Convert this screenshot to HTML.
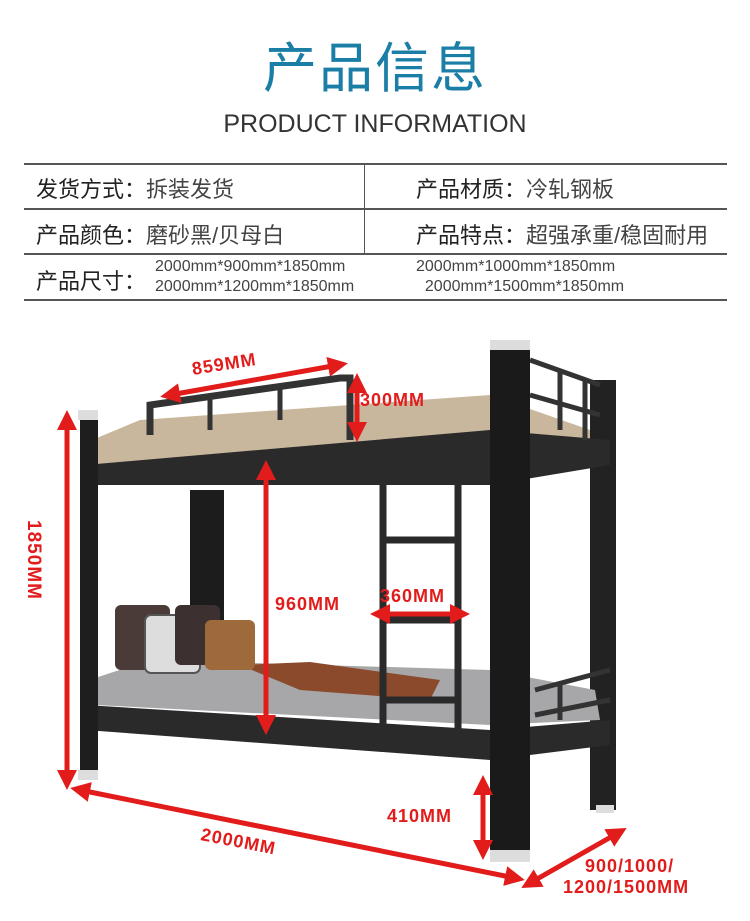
<!DOCTYPE html>
<html><head><meta charset="utf-8"><style>
body{margin:0;width:750px;height:921px;background:#fff;overflow:hidden;font-family:"Liberation Sans","Noto Sans CJK SC",sans-serif;position:relative}
.t{position:absolute;white-space:nowrap}
.h{position:absolute;left:24px;width:703px;height:2px;background:#555}
</style></head><body>
<div class="t" style="left:0;width:750px;text-align:center;top:36px;font-size:54px;color:#1b7ea6;letter-spacing:2px;line-height:66px">产品信息</div>
<div class="t" style="left:0;width:750px;text-align:center;top:108px;font-size:25px;color:#333;line-height:32px">PRODUCT INFORMATION</div>
<div class="h" style="top:163px"></div><div class="h" style="top:208px"></div><div class="h" style="top:253px"></div><div class="h" style="top:299px"></div>
<div style="position:absolute;left:364px;top:164px;width:1px;height:90px;background:#555"></div>
<div class="t" style="left:36px;top:172px;font-size:22px;color:#222">发货方式：<span style="color:#444">拆装发货</span></div>
<div class="t" style="left:416px;top:172px;font-size:22px;color:#222">产品材质：<span style="color:#444">冷轧钢板</span></div>
<div class="t" style="left:36px;top:218px;font-size:22px;color:#222">产品颜色：<span style="color:#444">磨砂黑/贝母白</span></div>
<div class="t" style="left:416px;top:218px;font-size:22px;color:#222">产品特点：<span style="color:#444">超强承重/稳固耐用</span></div>
<div class="t" style="left:36px;top:264px;font-size:22px;color:#222">产品尺寸：</div>
<div class="t" style="left:155px;top:257px;font-size:16px;color:#444;line-height:20px">2000mm*900mm*1850mm<br>2000mm*1200mm*1850mm</div>
<div class="t" style="left:416px;top:257px;font-size:16px;color:#444;line-height:20px">2000mm*1000mm*1850mm<br>&nbsp;&nbsp;2000mm*1500mm*1850mm</div>
<svg style="position:absolute;left:0;top:300px" width="750" height="621" viewBox="0 300 750 621">
<defs><marker id="a" viewBox="0 0 10 10" refX="5" refY="5" markerWidth="4" markerHeight="4" orient="auto-start-reverse"><path d="M0,0L10,5L0,10z" fill="#e21b1b"/></marker></defs>
<rect x="190" y="490" width="34" height="170" fill="#1c1c1c"/>
<rect x="590" y="380" width="26" height="430" fill="#222"/>
<path d="M92,440 L140,420 L490,395 L590,430 L590,445 L490,450 L92,470z" fill="#c9b79d"/>
<path d="M85,465 L490,430 L610,440 L610,465 L490,485 L85,485z" fill="#2a2a2a"/>
<path d="M150,435 L150,405 L340,378 L350,378 L350,440" fill="none" stroke="#333" stroke-width="7"/>
<line x1="210" y1="398" x2="210" y2="430" stroke="#333" stroke-width="5"/><line x1="280" y1="388" x2="280" y2="420" stroke="#333" stroke-width="5"/>
<path d="M530,360 L600,385 M530,395 L600,415 M560,370 L560,430 M585,380 L585,440" stroke="#333" stroke-width="5"/>
<path d="M95,678 L150,660 L490,670 L595,690 L600,720 L490,725 L95,705z" fill="#a7a7a9"/>
<path d="M240,665 L310,662 L440,680 L430,700 L300,690z" fill="#8b4a2c"/>
<rect x="115" y="605" width="55" height="65" rx="6" fill="#4a3b38"/>
<rect x="145" y="615" width="55" height="58" rx="6" fill="#ddd" stroke="#555" stroke-width="2"/>
<rect x="175" y="605" width="45" height="60" rx="6" fill="#3c3030"/>
<rect x="205" y="620" width="50" height="50" rx="6" fill="#9e6a3c"/>
<path d="M85,705 L490,730 L610,720 L610,745 L490,760 L85,730z" fill="#2a2a2a"/>
<path d="M535,690 L610,670 M535,715 L610,700 M560,685 L560,720" stroke="#333" stroke-width="5"/>
<path d="M383,460 L383,735 M458,455 L458,745 M383,540 L458,540 M383,620 L458,620 M383,700 L458,700" stroke="#2a2a2a" stroke-width="7"/>
<rect x="80" y="415" width="18" height="365" fill="#1e1e1e"/>
<rect x="78" y="410" width="20" height="10" fill="#ddd"/><rect x="78" y="770" width="20" height="10" fill="#ddd"/>
<rect x="490" y="345" width="40" height="515" fill="#1a1a1a"/>
<rect x="490" y="340" width="40" height="10" fill="#ddd"/><rect x="490" y="850" width="40" height="12" fill="#ddd"/>
<rect x="596" y="805" width="18" height="8" fill="#ddd"/>
<g stroke="#e21b1b" stroke-width="5" marker-start="url(#a)" marker-end="url(#a)">
<line x1="170" y1="395" x2="338" y2="365"/>
<line x1="357" y1="383" x2="357" y2="432"/>
<line x1="67" y1="420" x2="67" y2="780"/>
<line x1="266" y1="470" x2="266" y2="725"/>
<line x1="380" y1="614" x2="460" y2="614"/>
<line x1="483" y1="785" x2="483" y2="850"/>
<line x1="80" y1="790" x2="515" y2="878"/>
<line x1="530" y1="883" x2="618" y2="833"/>
</g>
<g fill="#e21b1b" font-family="Liberation Sans,sans-serif" font-weight="bold" font-size="18" letter-spacing="1">
<text x="193" y="375" transform="rotate(-9 193 375)">859MM</text>
<text x="360" y="406">300MM</text>
<text x="275" y="610">960MM</text>
<text x="380" y="602">360MM</text>
<text x="387" y="822">410MM</text>
<text x="200" y="840" transform="rotate(11 200 840)">2000MM</text>
<text x="585" y="872">900/1000/</text>
<text x="563" y="893">1200/1500MM</text>
<text x="28" y="560" transform="rotate(90 28 560)" text-anchor="middle" font-size="19">1850MM</text>
</g>
</svg>
</body></html>
